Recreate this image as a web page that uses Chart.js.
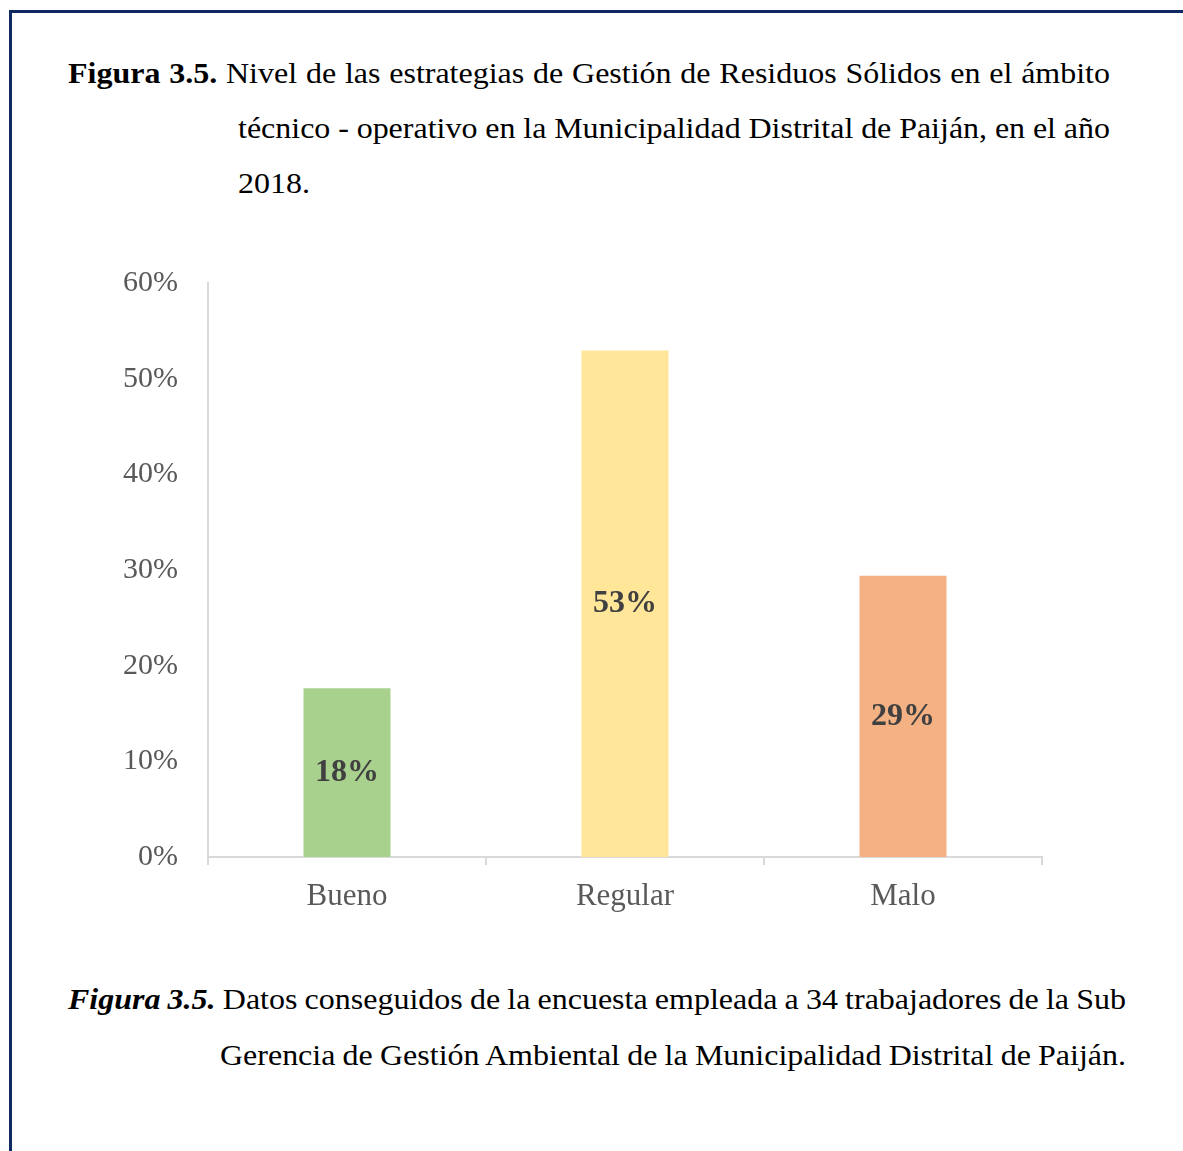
<!DOCTYPE html>
<html>
<head>
<meta charset="utf-8">
<script src="https://cdn.jsdelivr.net/npm/chart.js@4.4.1/dist/chart.umd.min.js"></script>
<style>
  body { margin: 0; background: #fff; }
  #page { position: relative; width: 1183px; height: 1151px; overflow: hidden; background: #fff; font-family: "Liberation Serif", "Times New Roman", serif; color: #000; }
  #frame { position: absolute; left: 9px; top: 10px; width: 1300px; height: 1300px; border-top: 3px solid #0f2a62; border-left: 3px solid #0f2a62; }
  .line { position: absolute; font-size: 30px; line-height: 30px; white-space: nowrap; transform: scaleX(1.066); transform-origin: 0 0; }
  #chartBox { position: absolute; left: 0; top: 235px; }
</style>
</head>
<body>
<div id="page">
  <div id="frame"></div>

  <div class="line" data-w="1042" style="left:68px; top:58px;"><b>Figura 3.5.</b> Nivel de las estrategias de Gestión de Residuos Sólidos en el ámbito</div>
  <div class="line" data-w="872" style="left:238px; top:113px;">técnico - operativo en la Municipalidad Distrital de Paiján, en el año</div>
  <div class="line" style="left:238px; top:168px;">2018.</div>

  <div id="chartBox"><canvas id="chart" width="1183" height="700"></canvas></div>

  <div class="line" data-w="1058" style="left:68px; top:984px;"><b><i>Figura 3.5.</i></b> Datos conseguidos de la encuesta empleada a 34 trabajadores de la Sub</div>
  <div class="line" data-w="906" style="left:220px; top:1040px;">Gerencia de Gestión Ambiental de la Municipalidad Distrital de Paiján.</div>
</div>

<script>
const categories = ["Bueno", "Regular", "Malo"];
const percentValues = [17.65, 52.94, 29.41];
const barColors = ["#a9d18e", "#ffe699", "#f4b183"];
const yTicks = [0, 10, 20, 30, 40, 50, 60];

const serif = "'Liberation Serif', 'Times New Roman', serif";
const textStretch = 1.066;

// adjust word gaps so every caption line ends where it does in the figure
document.querySelectorAll(".line[data-w]").forEach(el => {
  const target = +el.dataset.w;
  const natural = el.getBoundingClientRect().width;
  const gaps = (el.textContent.match(/ /g) || []).length;
  if (gaps) el.style.wordSpacing = ((target - natural) / gaps / textStretch) + "px";
});

const barLabels = {
  id: "barLabels",
  afterDatasetsDraw(chart) {
    const ctx = chart.ctx;
    const meta = chart.getDatasetMeta(0);
    ctx.save();
    ctx.font = "bold 32px " + serif;
    ctx.fillStyle = "#404040";
    ctx.textAlign = "center";
    ctx.textBaseline = "middle";
    meta.data.forEach((bar, i) => {
      const v = chart.data.datasets[0].data[i];
      ctx.fillText(Math.round(v) + "%", bar.x, (bar.y + bar.base) / 2);
    });
    ctx.restore();
  }
};

new Chart(document.getElementById("chart"), {
  type: "bar",
  data: {
    labels: categories,
    datasets: [{
      data: percentValues,
      backgroundColor: barColors,
      barPercentage: 0.313,
      categoryPercentage: 1
    }]
  },
  options: {
    responsive: false,
    animation: false,
    devicePixelRatio: 1,
    layout: { padding: { top: 0, right: 141, left: 0, bottom: 0 } },
    plugins: { legend: { display: false }, tooltip: { enabled: false } },
    scales: {
      y: {
        min: 0,
        max: 60,
        afterBuildTicks: (scale) => { scale.ticks = yTicks.map(v => ({ value: v })); },
        afterFit: (scale) => { scale.width = 208; },
        grid: { display: false, drawTicks: false },
        border: { display: true, color: "#d9d9d9", width: 2 },
        ticks: {
          padding: 30,
          color: "#595959",
          font: { family: serif, size: 30 },
          callback: (v) => v + "%"
        }
      },
      x: {
        afterFit: (scale) => { scale.height = 78; },
        grid: { display: true, drawOnChartArea: false, drawTicks: true, tickLength: 8, color: "#d9d9d9", lineWidth: 2 },
        border: { display: true, color: "#d9d9d9", width: 2 },
        ticks: {
          padding: 13,
          color: "#595959",
          font: { family: serif, size: 31 }
        }
      }
    }
  },
  plugins: [barLabels]
});
</script>
</body>
</html>
